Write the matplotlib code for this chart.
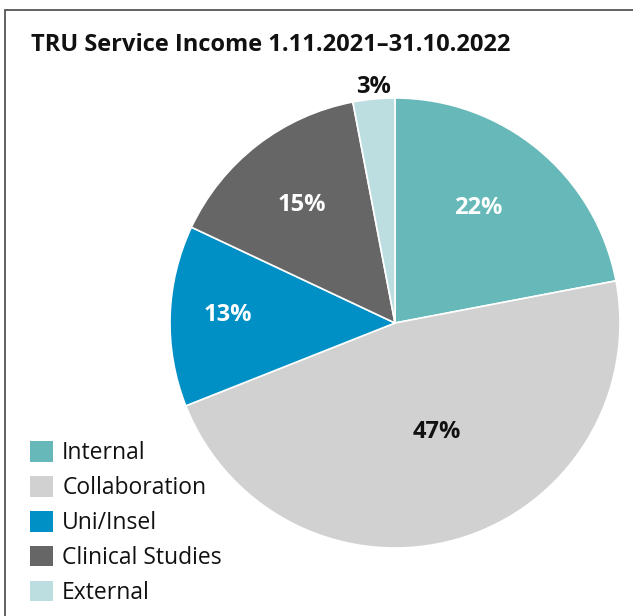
import matplotlib
matplotlib.use("Agg")
import matplotlib.pyplot as plt
from matplotlib.patches import Rectangle, Patch
import numpy as np

plt.rcParams['font.family'] = ['Open Sans', 'DejaVu Sans']

categories = ["Internal", "Collaboration", "Uni/Insel", "Clinical Studies", "External"]
shares = [22, 47, 13, 15, 3]
colors = ["#66b8b9", "#d0d1d0", "#0090c5", "#666666", "#bcdee1"]
label_colors = ["white", "#111111", "white", "white", "#111111"]
# label placement: radius (fraction of pie radius) and angular shift from wedge centre
label_radius = [0.630, 0.519, 0.743, 0.668, 1.053]
label_shift = [3.8, 4.9, -0.9, 0.4, -0.1]

W, H = 633, 616
fig = plt.figure(figsize=(W / 100, H / 100), dpi=100)

# frame around the panel
fig.add_artist(Rectangle((5 / W, -0.05), 1.1, (H - 10) / H + 0.05,
                         transform=fig.transFigure, fill=False,
                         edgecolor="#555555", linewidth=1.3))

fig.text(31 / W, 1 - 45 / H, "TRU Service Income 1.11.2021\u201331.10.2022",
         fontsize=17, fontweight="bold", va="center", ha="left", color="#111111")

ax = fig.add_axes([170 / W, 68 / H, 450 / W, 450 / H])
wedges, _ = ax.pie(shares, colors=colors, startangle=90, counterclock=False,
                   radius=1.0, wedgeprops=dict(edgecolor="white", linewidth=1.2))
ax.set_xlim(-1, 1)
ax.set_ylim(-1, 1)
ax.set_aspect("equal")
ax.axis("off")

for w, v, c, r, s in zip(wedges, shares, label_colors, label_radius, label_shift):
    ang = np.deg2rad((w.theta1 + w.theta2) / 2 + s)
    ax.text(r * np.cos(ang), r * np.sin(ang), f"{v}%", ha="center", va="center",
            fontsize=17, fontweight="bold", color=c, clip_on=False)

handles = [Patch(facecolor=c, edgecolor="none") for c in colors]
fig.legend(handles, categories, loc="lower left",
           bbox_to_anchor=(14 / W, -5 / H), frameon=False, fontsize=16.5,
           handlelength=1.0, handleheight=1.0, handletextpad=0.4,
           labelspacing=0.47, borderpad=0.2, labelcolor="#111111")

fig.savefig("out.png", dpi=100)
